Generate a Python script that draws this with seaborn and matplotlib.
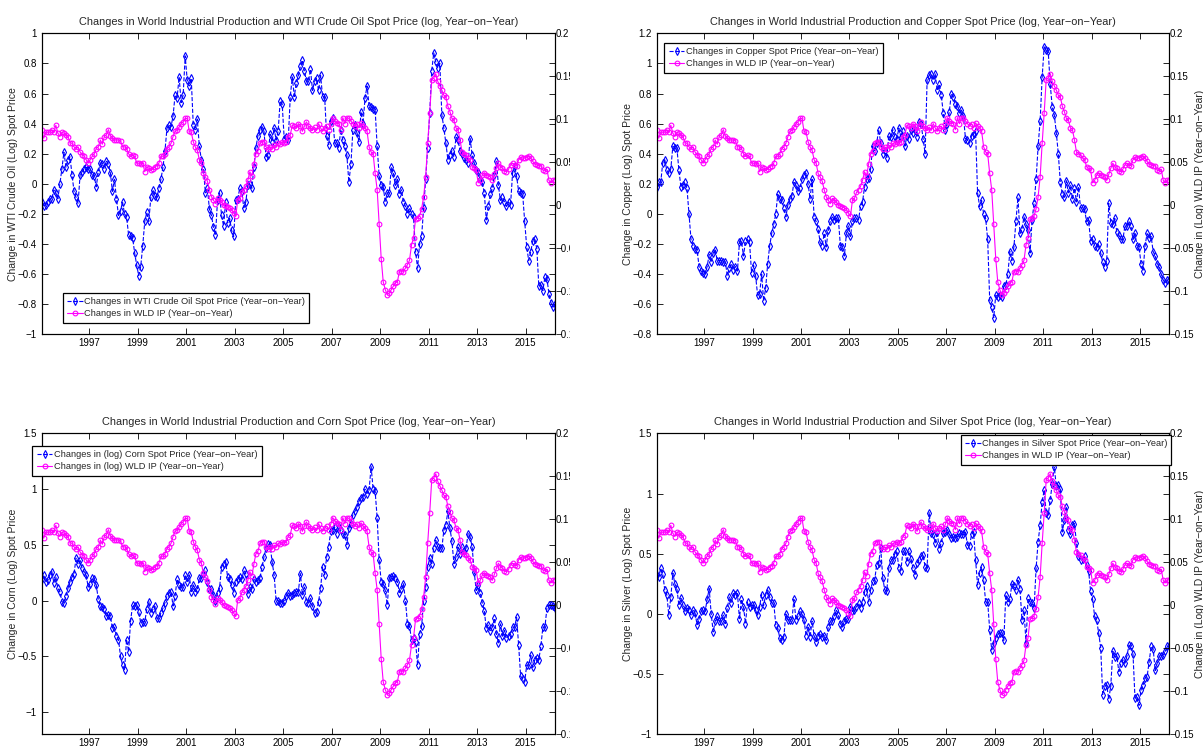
import numpy as np
import matplotlib
matplotlib.use("Agg")
import matplotlib.pyplot as plt
import seaborn as sns
from matplotlib.ticker import FuncFormatter, FixedLocator
from matplotlib.transforms import Bbox

# ---------------- data (monthly, Jan 1995 - Mar 2016) ----------------
START_YEAR = 1995

wld_ip = [
    0.087, 0.078, 0.085, 0.085, 0.085, 0.088, 0.085, 0.093, 0.084, 0.080, 0.085, 0.084,
    0.082, 0.080, 0.073, 0.072, 0.068, 0.066, 0.068, 0.062, 0.059, 0.057, 0.053, 0.049,
    0.053, 0.057, 0.060, 0.066, 0.068, 0.076, 0.071, 0.080, 0.082, 0.088, 0.081, 0.078,
    0.076, 0.076, 0.076, 0.075, 0.068, 0.068, 0.066, 0.060, 0.057, 0.058, 0.057, 0.049,
    0.049, 0.048, 0.049, 0.039, 0.045, 0.043, 0.041, 0.042, 0.045, 0.046, 0.049, 0.057,
    0.057, 0.060, 0.066, 0.068, 0.072, 0.080, 0.086, 0.087, 0.091, 0.095, 0.097, 0.101,
    0.101, 0.086, 0.085, 0.074, 0.068, 0.064, 0.053, 0.049, 0.037, 0.033, 0.028, 0.018,
    0.010, 0.006, 0.002, 0.008, 0.006, 0.004, 0.000, -0.001, -0.002, -0.003, -0.005, -0.009,
    -0.013, 0.006, 0.008, 0.015, 0.018, 0.022, 0.029, 0.039, 0.034, 0.048, 0.060, 0.063,
    0.072, 0.074, 0.074, 0.068, 0.066, 0.068, 0.066, 0.070, 0.068, 0.072, 0.071, 0.074,
    0.072, 0.074, 0.080, 0.082, 0.093, 0.092, 0.090, 0.095, 0.092, 0.086, 0.092, 0.097,
    0.092, 0.090, 0.087, 0.091, 0.087, 0.095, 0.090, 0.086, 0.090, 0.092, 0.088, 0.094,
    0.102, 0.098, 0.096, 0.095, 0.088, 0.102, 0.095, 0.102, 0.101, 0.098, 0.095, 0.092,
    0.095, 0.090, 0.096, 0.092, 0.090, 0.086, 0.068, 0.062, 0.060, 0.037, 0.018, -0.022,
    -0.062, -0.089, -0.098, -0.104, -0.102, -0.098, -0.094, -0.090, -0.089, -0.077, -0.076, -0.077,
    -0.073, -0.069, -0.064, -0.046, -0.038, -0.016, -0.015, -0.012, -0.004, 0.010, 0.033, 0.072,
    0.107, 0.146, 0.148, 0.153, 0.144, 0.139, 0.134, 0.128, 0.126, 0.115, 0.109, 0.101,
    0.099, 0.090, 0.088, 0.076, 0.062, 0.060, 0.059, 0.055, 0.053, 0.045, 0.043, 0.041,
    0.026, 0.029, 0.035, 0.038, 0.035, 0.034, 0.033, 0.029, 0.036, 0.043, 0.049, 0.045,
    0.043, 0.040, 0.039, 0.042, 0.047, 0.049, 0.047, 0.046, 0.053, 0.056, 0.055, 0.055,
    0.056, 0.057, 0.055, 0.051, 0.048, 0.047, 0.046, 0.046, 0.041, 0.040, 0.042, 0.029,
    0.026, 0.029, 0.030,
]

wti_oil = [
    -0.12, -0.15, -0.14, -0.12, -0.10, -0.10, -0.04, -0.06, -0.10, 0.00, 0.10, 0.21,
    0.11, 0.16, 0.18, 0.06, -0.05, -0.09, -0.13, 0.06, 0.08, 0.10, 0.11, 0.10,
    0.10, 0.06, 0.05, -0.02, 0.08, 0.14, 0.13, 0.10, 0.15, 0.13, 0.07, -0.05,
    0.03, -0.10, -0.21, -0.18, -0.12, -0.20, -0.22, -0.34, -0.35, -0.36, -0.46, -0.54,
    -0.61, -0.55, -0.41, -0.25, -0.19, -0.25, -0.09, -0.04, -0.08, -0.09, -0.03, 0.03,
    0.11, 0.22, 0.37, 0.39, 0.38, 0.45, 0.59, 0.57, 0.71, 0.54, 0.59, 0.85,
    0.69, 0.65, 0.70, 0.39, 0.36, 0.43, 0.25, 0.16, 0.10, -0.06, -0.03, -0.17,
    -0.21, -0.29, -0.34, -0.11, -0.06, -0.21, -0.28, -0.12, -0.26, -0.23, -0.31, -0.35,
    -0.11, -0.10, -0.03, -0.05, -0.16, -0.12, -0.01, 0.00, -0.03, 0.11, 0.24, 0.32,
    0.36, 0.38, 0.35, 0.18, 0.19, 0.33, 0.28, 0.37, 0.29, 0.35, 0.55, 0.53,
    0.30, 0.31, 0.29, 0.58, 0.71, 0.58, 0.67, 0.72, 0.78, 0.82, 0.75, 0.68,
    0.68, 0.76, 0.62, 0.68, 0.70, 0.62, 0.72, 0.58, 0.58, 0.32, 0.26, 0.42,
    0.44, 0.27, 0.27, 0.24, 0.36, 0.29, 0.25, 0.19, 0.01, 0.13, 0.36, 0.39,
    0.34, 0.28, 0.48, 0.40, 0.57, 0.65, 0.52, 0.51, 0.50, 0.49, 0.25, 0.05,
    -0.01, -0.02, -0.12, -0.06, -0.06, 0.11, 0.07, -0.01, 0.03, -0.07, -0.04, -0.12,
    -0.15, -0.20, -0.16, -0.20, -0.22, -0.45, -0.56, -0.40, -0.35, -0.16, 0.03, 0.24,
    0.47, 0.75, 0.87, 0.81, 0.77, 0.80, 0.46, 0.37, 0.27, 0.16, 0.19, 0.22,
    0.18, 0.31, 0.29, 0.22, 0.20, 0.17, 0.16, 0.14, 0.30, 0.19, 0.14, 0.09,
    0.08, 0.03, 0.01, -0.06, -0.24, -0.15, -0.07, -0.03, 0.06, 0.15, -0.01, -0.11,
    -0.09, -0.12, -0.15, -0.12, -0.14, 0.07, 0.12, 0.05, -0.05, -0.06, -0.07, -0.25,
    -0.42, -0.51, -0.45, -0.38, -0.37, -0.43, -0.68, -0.67, -0.71, -0.62, -0.63, -0.73,
    -0.79, -0.82, -0.80,
]

copper = [
    0.18, 0.21, 0.21, 0.34, 0.36, 0.29, 0.27, 0.30, 0.45, 0.44, 0.44, 0.29,
    0.18, 0.19, 0.21, 0.17, 0.00, -0.17, -0.21, -0.23, -0.24, -0.35, -0.38, -0.39,
    -0.40, -0.35, -0.27, -0.32, -0.26, -0.24, -0.31, -0.31, -0.31, -0.32, -0.32, -0.41,
    -0.36, -0.33, -0.37, -0.35, -0.38, -0.19, -0.18, -0.28, -0.18, -0.17, -0.19, -0.39,
    -0.34, -0.41, -0.54, -0.53, -0.40, -0.58, -0.49, -0.33, -0.21, -0.13, -0.07, 0.00,
    0.13, 0.10, 0.09, 0.04, -0.02, 0.06, 0.10, 0.12, 0.21, 0.19, 0.15, 0.17,
    0.23, 0.26, 0.27, 0.20, 0.10, 0.23, -0.02, -0.05, -0.10, -0.19, -0.21, -0.13,
    -0.22, -0.11, -0.05, -0.02, -0.04, -0.03, -0.03, -0.21, -0.22, -0.28, -0.13, -0.08,
    -0.15, -0.05, -0.03, -0.03, -0.04, 0.05, 0.08, 0.18, 0.23, 0.24, 0.30, 0.45,
    0.42, 0.47, 0.56, 0.47, 0.40, 0.42, 0.37, 0.52, 0.51, 0.56, 0.51, 0.50,
    0.57, 0.51, 0.55, 0.45, 0.52, 0.50, 0.56, 0.54, 0.56, 0.51, 0.61, 0.60,
    0.50, 0.40, 0.89, 0.92, 0.93, 0.89, 0.93, 0.82, 0.86, 0.79, 0.67, 0.56,
    0.60, 0.68, 0.80, 0.78, 0.73, 0.72, 0.67, 0.69, 0.65, 0.50, 0.49, 0.47,
    0.52, 0.53, 0.55, 0.14, 0.05, 0.09, 0.00, -0.03, -0.17, -0.57, -0.62, -0.69,
    -0.54, -0.55, -0.54, -0.55, -0.48, -0.47, -0.40, -0.25, -0.31, -0.22, -0.05, 0.11,
    -0.13, -0.10, -0.02, -0.07, -0.11, -0.26, -0.04, 0.07, 0.23, 0.45, 0.62, 0.91,
    1.11, 1.09, 1.08, 0.86, 0.71, 0.66, 0.54, 0.40, 0.21, 0.13, 0.11, 0.22,
    0.14, 0.19, 0.10, 0.17, 0.08, 0.18, 0.04, 0.04, 0.03, -0.05, -0.04, -0.18,
    -0.17, -0.21, -0.22, -0.20, -0.26, -0.32, -0.35, -0.31, 0.07, -0.06, -0.07, -0.03,
    -0.12, -0.14, -0.17, -0.17, -0.08, -0.08, -0.05, -0.08, -0.17, -0.13, -0.21, -0.22,
    -0.33, -0.38, -0.21, -0.13, -0.16, -0.15, -0.25, -0.28, -0.33, -0.35, -0.40, -0.44,
    -0.46, -0.44, -0.44,
]

corn = [
    0.19, 0.23, 0.17, 0.18, 0.23, 0.26, 0.16, 0.21, 0.11, 0.08, -0.01, -0.02,
    0.04, 0.11, 0.17, 0.21, 0.24, 0.38, 0.33, 0.36, 0.29, 0.26, 0.23, 0.12,
    0.15, 0.20, 0.19, 0.14, 0.01, -0.05, -0.06, -0.08, -0.14, -0.13, -0.14, -0.25,
    -0.24, -0.32, -0.35, -0.50, -0.58, -0.62, -0.35, -0.46, -0.18, -0.04, -0.05, -0.04,
    -0.10, -0.20, -0.19, -0.19, -0.08, -0.01, -0.11, -0.08, -0.05, -0.16, -0.16, -0.11,
    -0.07, -0.02, 0.04, 0.07, 0.08, -0.05, 0.04, 0.19, 0.14, 0.12, 0.12, 0.23,
    0.17, 0.23, 0.08, 0.14, 0.08, 0.10, 0.20, 0.20, 0.24, 0.27, 0.17, 0.10,
    0.10, 0.05, 0.00, 0.07, 0.11, 0.30, 0.33, 0.35, 0.21, 0.19, 0.14, 0.07,
    0.17, 0.19, 0.21, 0.19, 0.27, 0.24, 0.06, 0.12, 0.10, 0.19, 0.17, 0.18,
    0.20, 0.30, 0.39, 0.47, 0.51, 0.50, 0.35, 0.23, 0.00, 0.00, -0.02, -0.02,
    0.00, 0.04, 0.07, 0.04, 0.05, 0.07, 0.08, 0.08, 0.24, 0.05, 0.12, -0.01,
    -0.02, 0.02, -0.05, -0.11, -0.10, -0.01, 0.11, 0.30, 0.23, 0.39, 0.48, 0.62,
    0.63, 0.66, 0.60, 0.66, 0.63, 0.60, 0.59, 0.50, 0.65, 0.69, 0.77, 0.80,
    0.84, 0.89, 0.92, 0.93, 1.00, 0.96, 0.99, 1.20, 1.00, 0.98, 0.74, 0.36,
    0.17, 0.15, 0.09, -0.04, 0.20, 0.21, 0.22, 0.20, 0.17, 0.07, 0.10, 0.15,
    0.00, -0.21, -0.23, -0.35, -0.34, -0.37, -0.58, -0.30, -0.23, 0.00, 0.12, 0.30,
    0.38, 0.33, 0.47, 0.54, 0.48, 0.47, 0.47, 0.63, 0.68, 0.80, 0.65, 0.53,
    0.33, 0.39, 0.48, 0.42, 0.48, 0.44, 0.47, 0.60, 0.57, 0.48, 0.26, 0.09,
    0.14, 0.07, -0.02, -0.09, -0.25, -0.22, -0.27, -0.24, -0.16, -0.30, -0.38, -0.21,
    -0.32, -0.27, -0.34, -0.32, -0.30, -0.24, -0.24, -0.15, -0.40, -0.68, -0.70, -0.73,
    -0.58, -0.58, -0.49, -0.60, -0.53, -0.52, -0.53, -0.41, -0.24, -0.24, -0.07, -0.04,
    -0.04, -0.05, -0.07,
]

silver = [
    0.32, 0.31, 0.38, 0.33, 0.20, 0.16, -0.01, 0.14, 0.34, 0.25, 0.21, 0.07,
    0.13, 0.07, 0.02, 0.05, 0.03, -0.01, 0.03, 0.01, -0.09, -0.04, 0.02, 0.03,
    0.02, 0.12, 0.21, 0.00, -0.15, -0.06, -0.02, -0.06, -0.06, -0.01, -0.08, 0.05,
    0.14, 0.09, 0.17, 0.16, 0.17, -0.04, 0.12, 0.06, -0.08, 0.10, 0.06, 0.07,
    0.07, 0.03, -0.01, 0.06, 0.16, 0.07, 0.16, 0.20, 0.14, 0.09, 0.09, -0.09,
    -0.12, -0.20, -0.22, -0.19, 0.00, -0.05, -0.05, -0.05, 0.12, -0.05, -0.02, 0.02,
    0.00, -0.05, -0.18, -0.11, -0.19, -0.06, -0.18, -0.23, -0.18, -0.17, -0.19, -0.18,
    -0.22, -0.11, -0.06, -0.06, -0.02, 0.03, -0.01, -0.08, -0.11, -0.06, -0.04, -0.04,
    0.06, 0.02, 0.03, 0.06, 0.09, 0.05, 0.10, 0.18, 0.23, 0.10, 0.20, 0.27,
    0.28, 0.41, 0.42, 0.55, 0.30, 0.20, 0.19, 0.38, 0.45, 0.45, 0.50, 0.52,
    0.38, 0.36, 0.52, 0.52, 0.43, 0.52, 0.46, 0.38, 0.32, 0.42, 0.45, 0.48,
    0.49, 0.39, 0.38, 0.84, 0.67, 0.66, 0.59, 0.68, 0.54, 0.59, 0.67, 0.68,
    0.70, 0.66, 0.63, 0.64, 0.63, 0.64, 0.67, 0.66, 0.66, 0.68, 0.57, 0.56,
    0.66, 0.68, 0.45, 0.24, 0.34, 0.39, 0.28, 0.10, 0.10, -0.13, -0.30, -0.24,
    -0.20, -0.17, -0.16, -0.16, -0.22, 0.16, 0.10, 0.12, 0.25, 0.23, 0.20, 0.28,
    0.21, -0.05, 0.03, -0.24, 0.13, 0.10, 0.09, 0.05, 0.38, 0.60, 0.74, 0.93,
    1.03, 0.84, 0.82, 0.95, 1.08, 1.22, 1.06, 1.07, 1.04, 0.68, 0.78, 0.89,
    0.70, 0.66, 0.74, 0.75, 0.59, 0.48, 0.45, 0.46, 0.48, 0.41, 0.36, 0.19,
    0.12, -0.02, -0.05, -0.16, -0.28, -0.67, -0.60, -0.59, -0.71, -0.60, -0.31, -0.36,
    -0.35, -0.48, -0.41, -0.38, -0.41, -0.35, -0.26, -0.27, -0.33, -0.70, -0.69, -0.76,
    -0.63, -0.59, -0.53, -0.52, -0.40, -0.27, -0.29, -0.47, -0.41, -0.35, -0.35, -0.34,
    -0.31, -0.27, -0.27,
]

year_ticks = [1997, 1999, 2001, 2003, 2005, 2007, 2009, 2011, 2013, 2015]

titles = [
    "Changes in World Industrial Production and WTI Crude Oil Spot Price (log, Year\u2212on\u2212Year)",
    "Changes in World Industrial Production and Copper Spot Price (log, Year\u2212on\u2212Year)",
    "Changes in World Industrial Production and Corn Spot Price (log, Year\u2212on\u2212Year)",
    "Changes in World Industrial Production and Silver Spot Price (log, Year\u2212on\u2212Year)",
]
left_ylabels = [
    "Change in WTI Crude Oil (Log) Spot Price",
    "Change in Copper (Log) Spot Price",
    "Change in Corn (Log) Spot Price",
    "Change in Silver (Log) Spot Price",
]
right_ylabel = "Change in (Log) WLD IP (Year\u2212on\u2212Year)"
price_labels = [
    "Changes in WTI Crude Oil Spot Price (Year\u2212on\u2212Year)",
    "Changes in Copper Spot Price (Year\u2212on\u2212Year)",
    "Changes in (log) Corn Spot Price (Year\u2212on\u2212Year)",
    "Changes in Silver Spot Price (Year\u2212on\u2212Year)",
]
ip_labels = [
    "Changes in WLD IP (Year\u2212on\u2212Year)",
    "Changes in WLD IP (Year\u2212on\u2212Year)",
    "Changes in (log) WLD IP (Year\u2212on\u2212Year)",
    "Changes in WLD IP (Year\u2212on\u2212Year)",
]
left_ylims = [(-1.0, 1.0), (-0.8, 1.2), (-1.2, 1.5), (-1.0, 1.5)]
left_yticks = [
    [-1, -0.8, -0.6, -0.4, -0.2, 0, 0.2, 0.4, 0.6, 0.8, 1],
    [-0.8, -0.6, -0.4, -0.2, 0, 0.2, 0.4, 0.6, 0.8, 1, 1.2],
    [-1, -0.5, 0, 0.5, 1, 1.5],
    [-1, -0.5, 0, 0.5, 1, 1.5],
]
right_ylim = (-0.15, 0.2)
right_yticks = [-0.15, -0.1, -0.05, 0, 0.05, 0.1, 0.15, 0.2]

# ---------------- styling ----------------
sns.set_style("white")
plt.rcParams["font.family"] = ["Liberation Sans", "DejaVu Sans"]
plt.rcParams["axes.unicode_minus"] = True

TITLE_FS, TICK_FS, LEG_FS, YLAB_FS = 7.9, 7.0, 6.7, 7.5

FIG_W, FIG_H = 1203, 749
fig = plt.figure(figsize=(FIG_W / 100, FIG_H / 100), dpi=100)

def px_rect(x0, y0, x1, y1):
    return [x0 / FIG_W, 1 - y1 / FIG_H, (x1 - x0) / FIG_W, (y1 - y0) / FIG_H]

panel_px = [
    (41.7, 33.3, 555.0, 334.3),
    (656.7, 33.3, 1169.3, 334.3),
    (41.7, 433.3, 555.0, 734.3),
    (656.7, 433.3, 1169.3, 734.3),
]
# legend box: (centre x, top y) in pixels
legend_anchor_px = [(186, 293), (773.5, 43), (147, 446), (1066, 435)]

def fmt(v, pos=None):
    s = f"{v:.2f}".rstrip("0").rstrip(".")
    if s == "-0":
        s = "0"
    return s.replace("-", "\u2212")

n = len(wld_ip)
t = START_YEAR + (np.arange(n) + 0.5) / 12.0

series = [wti_oil, copper, corn, silver]

for i in range(4):
    ax = fig.add_axes(px_rect(*panel_px[i]))
    ax2 = ax.twinx()

    sns.lineplot(x=t, y=np.array(series[i]), ax=ax, color="#0000ff",
                 linestyle="--", linewidth=0.8, marker="d", markersize=4.2,
                 markerfacecolor="none", markeredgecolor="#0000ff",
                 markeredgewidth=0.8, estimator=None, sort=False, legend=False)
    sns.lineplot(x=t, y=np.array(wld_ip), ax=ax2, color="#ff00ff",
                 linestyle="-", linewidth=0.8, marker="o", markersize=3.4,
                 markerfacecolor="none", markeredgecolor="#ff00ff",
                 markeredgewidth=0.8, estimator=None, sort=False, legend=False)

    ax.set_xlim(t[0], t[-1])
    ax.set_ylim(*left_ylims[i])
    ax2.set_ylim(*right_ylim)
    ax.set_xticks(year_ticks)
    ax.set_xticklabels([str(y) for y in year_ticks])
    ax.yaxis.set_major_locator(FixedLocator(left_yticks[i]))
    ax.yaxis.set_major_formatter(FuncFormatter(fmt))
    ax2.yaxis.set_major_locator(FixedLocator(right_yticks))
    ax2.yaxis.set_major_formatter(FuncFormatter(fmt))

    ax.tick_params(axis="both", direction="in", length=4, width=0.6,
                   labelsize=TICK_FS, colors="black", top=True, right=True,
                   bottom=True, left=True, labelright=False, labeltop=False)
    ax.tick_params(axis="y", pad=3.5)
    ax.tick_params(axis="x", pad=3)
    ax2.tick_params(axis="y", direction="in", length=4, width=0.6,
                    labelsize=TICK_FS, colors="black", right=True, left=False,
                    pad=0.5)
    for a in (ax, ax2):
        for sp in a.spines.values():
            sp.set_color("black")
            sp.set_linewidth(0.8)
            sp.set_visible(True)
    ax.set_xlabel("")
    ax.set_ylabel(left_ylabels[i], fontsize=YLAB_FS)
    ax.yaxis.set_label_coords(-0.046, 0.5)
    ax2.set_ylabel("")
    if i in (1, 3):
        ax2.set_ylabel(right_ylabel, fontsize=YLAB_FS, color="#222222")
        ax2.yaxis.set_label_coords(1.0505, 0.5)
    ax.set_title(titles[i], fontsize=TITLE_FS, pad=6)

    h1 = ax.get_lines()[-1]
    h2 = ax2.get_lines()[-1]
    ax_px = legend_anchor_px[i]
    leg = fig.legend([h1, h2], [price_labels[i], ip_labels[i]],
                     loc="upper center",
                     bbox_to_anchor=(ax_px[0] / FIG_W, 1 - ax_px[1] / FIG_H),
                     bbox_transform=fig.transFigure, fontsize=LEG_FS,
                     handlelength=1.7, handletextpad=0.15, borderpad=0.45,
                     labelspacing=0.35, borderaxespad=0, fancybox=False,
                     framealpha=1, edgecolor="black", numpoints=1)
    leg.get_frame().set_linewidth(0.9)

    if i in (0, 2):
        clip = Bbox.from_extents(0, 0, 569.5, FIG_H)
        for lab in ax2.get_yticklabels():
            lab.set_clip_box(clip)
            lab.set_clip_on(True)

fig.savefig("out.png", dpi=100, facecolor="white")
